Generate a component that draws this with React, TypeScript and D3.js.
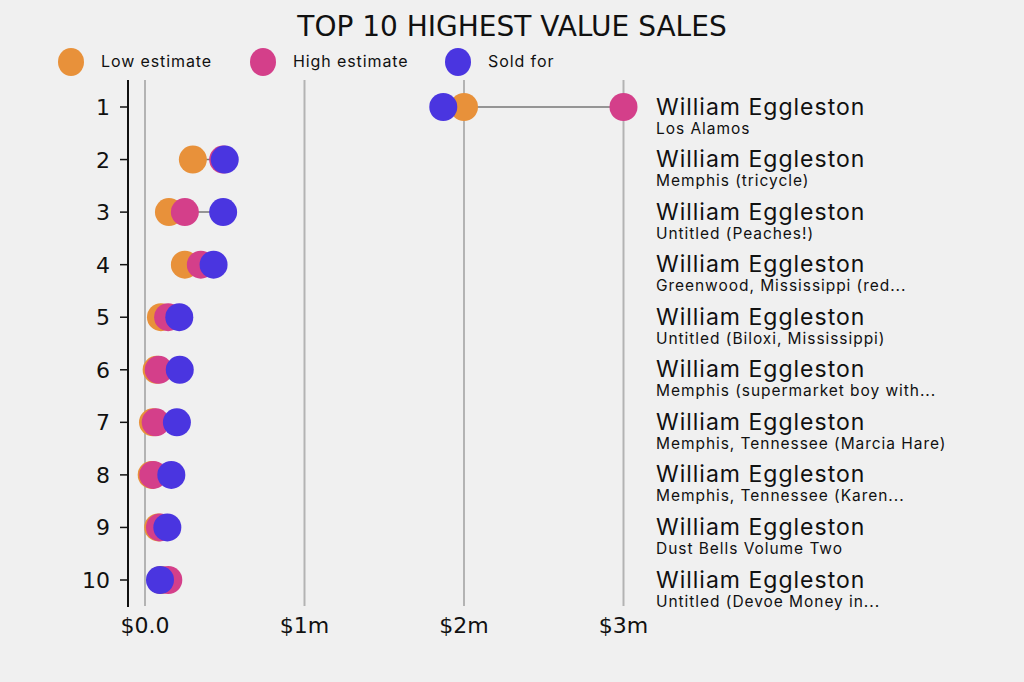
import React from "react";
import * as d3 from "d3";

const ranks = [1, 2, 3, 4, 5, 6, 7, 8, 9, 10];
const artists = Array(10).fill("William Eggleston");
const titles = [
  "Los Alamos",
  "Memphis (tricycle)",
  "Untitled (Peaches!)",
  "Greenwood, Mississippi (red...",
  "Untitled (Biloxi, Mississippi)",
  "Memphis (supermarket boy with...",
  "Memphis, Tennessee (Marcia Hare)",
  "Memphis, Tennessee (Karen...",
  "Dust Bells Volume Two",
  "Untitled (Devoe Money in...",
];
// values in $m
const lowEstimate = [2.0, 0.3, 0.15, 0.25, 0.1, 0.073, 0.05, 0.042, 0.083, 0.1];
const highEstimate = [3.0, 0.49, 0.25, 0.35, 0.145, 0.086, 0.067, 0.052, 0.094, 0.146];
const soldFor = [1.87, 0.5, 0.49, 0.43, 0.215, 0.218, 0.2, 0.165, 0.14, 0.094];
const xTicks = [0, 1, 2, 3];
const xTickLabels = ["$0.0", "$1m", "$2m", "$3m"];

const COLORS = { low: "#e8913a", high: "#d43f8a", sold: "#4a35e0" };
const W = 1024;
const H = 682;
const R = 14;
const LABEL_FONT = "Inter, 'Open Sans', sans-serif";
const AXIS_FONT = "'DejaVu Sans', sans-serif";

export default function App() {
  const x = d3.scaleLinear().domain([0, 3]).range([145, 623.5]);
  const y = d3.scalePoint<number>().domain(ranks).range([107, 580]);

  const series = [
    { key: "low", label: "Low estimate", values: lowEstimate, color: COLORS.low, lx: 71 },
    { key: "high", label: "High estimate", values: highEstimate, color: COLORS.high, lx: 263 },
    { key: "sold", label: "Sold for", values: soldFor, color: COLORS.sold, lx: 458 },
  ];

  return (
    <div style={{ position: "fixed", left: 0, top: 0, width: W, height: H, background: "#f0f0f0" }}>
      <svg width={W} height={H} style={{ display: "block" }}>
        <rect width={W} height={H} fill="#f0f0f0" />
        <text x={512} y={36} textAnchor="middle" fontFamily={AXIS_FONT} fontSize={28} fill="#111">
          TOP 10 HIGHEST VALUE SALES
        </text>

        {/* legend */}
        {series.map((s) => (
          <g key={s.key}>
            <ellipse cx={s.lx} cy={62} rx={13} ry={14} fill={s.color} />
            <text x={s.lx + 30} y={67} fontFamily={LABEL_FONT} fontSize={16} letterSpacing={0.9} fill="#111">
              {s.label}
            </text>
          </g>
        ))}

        {/* grid */}
        {xTicks.map((t) => (
          <line key={t} x1={x(t)} x2={x(t)} y1={80} y2={606} stroke="#b3b3b3" strokeWidth={2} />
        ))}

        {/* y axis */}
        <line x1={128} x2={128} y1={80} y2={607} stroke="#111" strokeWidth={2} />
        {ranks.map((r) => (
          <g key={r}>
            <line x1={120} x2={128} y1={y(r)} y2={y(r)} stroke="#111" strokeWidth={1.5} />
            <text x={110} y={y(r)! + 8} textAnchor="end" fontFamily={AXIS_FONT} fontSize={22} fill="#111">
              {r}
            </text>
          </g>
        ))}

        {/* x tick labels */}
        {xTicks.map((t, i) => (
          <text key={t} x={x(t)} y={633} textAnchor="middle" fontFamily={AXIS_FONT} fontSize={22} fill="#111">
            {xTickLabels[i]}
          </text>
        ))}

        {/* dumbbells */}
        {ranks.map((r, i) => {
          const vals = [lowEstimate[i], highEstimate[i], soldFor[i]];
          const lo = d3.min(vals)!;
          const hi = d3.max(vals)!;
          const cy = y(r)!;
          return (
            <g key={r}>
              <line x1={x(lo)} x2={x(hi)} y1={cy} y2={cy} stroke="#777" strokeWidth={1.5} />
              {series.map((s) => (
                <circle key={s.key} cx={x(s.values[i])} cy={cy} r={R} fill={s.color} />
              ))}
              <text x={656} y={cy + 7.5} fontFamily={LABEL_FONT} fontSize={23} letterSpacing={1} fill="#111">
                {artists[i]}
              </text>
              <text x={656} y={cy + 26.5} fontFamily={LABEL_FONT} fontSize={15.5} letterSpacing={0.95} fill="#111">
                {titles[i]}
              </text>
            </g>
          );
        })}
      </svg>
    </div>
  );
}
